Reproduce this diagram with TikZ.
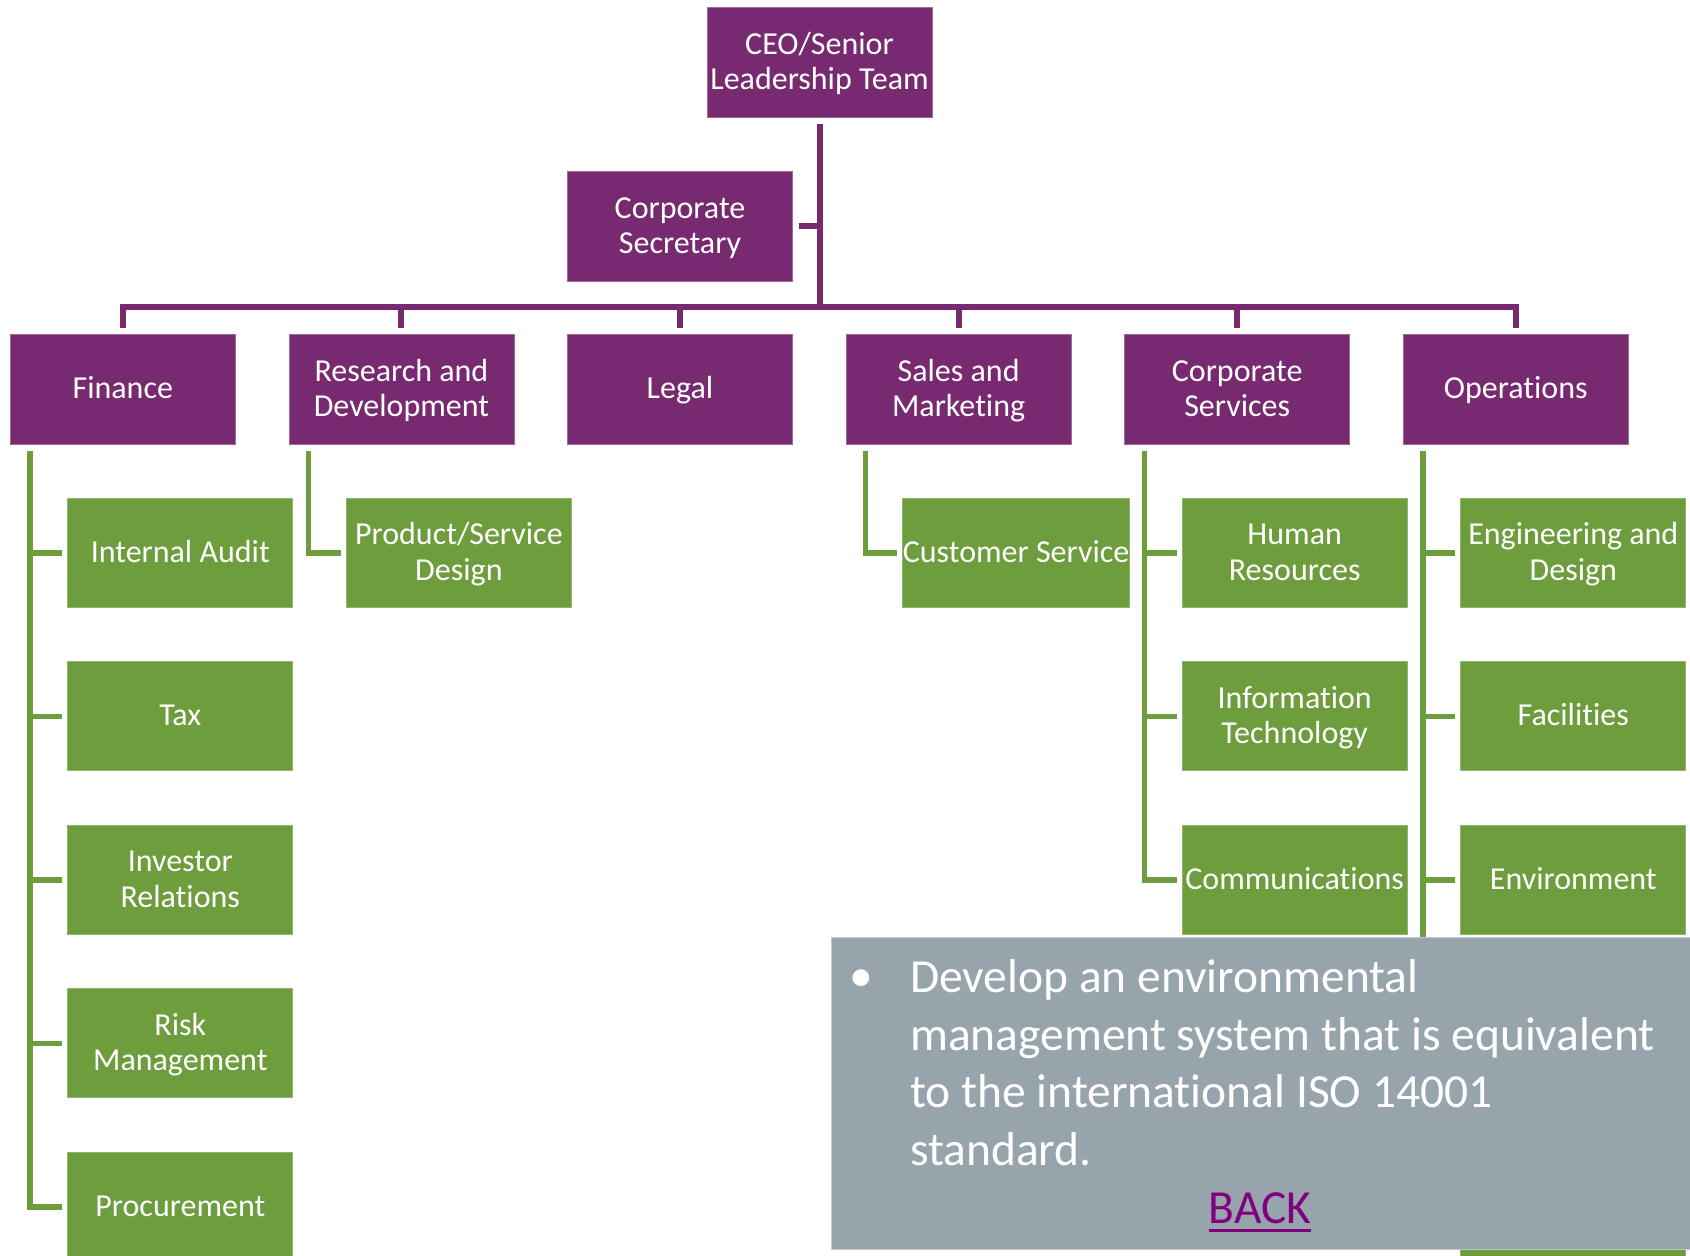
\documentclass[tikz,border=0pt]{standalone}
\usepackage{fontspec}
\setmainfont[RawFeature={-liga}]{Carlito}
\definecolor{orgpurple}{HTML}{772A70}
\definecolor{orggreen}{HTML}{6E9D3D}
\definecolor{notegray}{HTML}{98A4AC}
\definecolor{linkpurple}{HTML}{800080}
\newcommand\mystrut{\rule[-8pt]{0pt}{35.3pt}}
\begin{document}
\begin{tikzpicture}[x=1pt,y=-1pt,
  box/.style={minimum width=225pt, minimum height=110pt, inner sep=0pt, text=white, align=center, font=\fontsize{32}{35.3}\selectfont, line width=0.8pt},
  pbox/.style={box, fill=orgpurple, draw=orgpurple!70!white},
  gbox/.style={box, fill=orggreen, minimum height=109pt, draw=orggreen!75!white},
  pline/.style={draw=orgpurple, line width=6pt},
  gline/.style={draw=orggreen, line width=5.4pt},
  notetext/.style={text=white, font=\fontsize{47.5}{57.7}\selectfont, inner sep=0pt, anchor=base west}]
\useasboundingbox (0,0) rectangle (1690,1256);
\clip (0,0) rectangle (1690,1256);
% top
\node[pbox] (ceo) at (819.5,62.3) {\mystrut CEO/Senior\\\mystrut Leadership Team};
\node[pbox] (sec) at (680,226) {\mystrut Corporate\\\mystrut Secretary};
% level 2
\node[pbox] (fin) at (122.8,389.3) {\mystrut Finance};
\node[pbox] (rnd) at (401.4,389.3) {\mystrut Research and\\\mystrut Development};
\node[pbox] (legal) at (680,389.3) {\mystrut Legal};
\node[pbox] (sales) at (958.6,389.3) {\mystrut Sales and\\\mystrut Marketing};
\node[pbox] (cs) at (1237.2,389.3) {\mystrut Corporate\\\mystrut Services};
\node[pbox] (ops) at (1515.8,389.3) {\mystrut Operations};
% level 3
\node[gbox] (audit) at (180.3,552.8) {\mystrut Internal Audit};
\node[gbox] (tax) at (180.3,716.3) {\mystrut Tax};
\node[gbox] (ir) at (180.3,879.8) {\mystrut Investor\\\mystrut Relations};
\node[gbox] (risk) at (180.3,1043.3) {\mystrut Risk\\\mystrut Management};
\node[gbox] (proc) at (180.3,1206.8) {\mystrut Procurement};
\node[gbox] (psd) at (458.9,552.8) {\mystrut Product/Service\\\mystrut Design};
\node[gbox] (cust) at (1016.1,552.8) {\mystrut Customer Service};
\node[gbox] (hr) at (1294.7,552.8) {\mystrut Human\\\mystrut Resources};
\node[gbox] (it) at (1294.7,716.3) {\mystrut Information\\\mystrut Technology};
\node[gbox] (comm) at (1294.7,879.8) {\mystrut Communications};
\node[gbox] (eng) at (1573.3,552.8) {\mystrut Engineering and\\\mystrut Design};
\node[gbox] (fac) at (1573.3,716.3) {\mystrut Facilities};
\node[gbox] (env) at (1573.3,879.8) {\mystrut Environment};
\node[gbox] (opsx) at (1573.3,1206.8) {};
% purple connectors
\coordinate (bus) at (819.5,307);
\draw[pline] ([yshift=-6pt]ceo.south) -- (ceo.south |- bus);
\draw[pline] ([yshift=6pt]fin.north) -- (fin.north |- bus) -- (ops.north |- bus) -- ([yshift=6pt]ops.north);
\foreach \n in {rnd,legal,sales,cs} \draw[pline] (\n.north |- bus) -- ([yshift=6pt]\n.north);
\draw[pline] ([xshift=6pt]sec.east) -- (sec.east -| ceo.south);
% green connectors
\coordinate (finV) at ([xshift=20pt,yshift=-6pt]fin.south west);
\draw[gline] (finV) -- (finV |- proc.west) -- ([xshift=-5pt]proc.west);
\foreach \c in {audit,tax,ir,risk} \draw[gline] (finV |- \c.west) -- ([xshift=-5pt]\c.west);
\coordinate (rndV) at ([xshift=20pt,yshift=-6pt]rnd.south west);
\draw[gline] (rndV) -- (rndV |- psd.west) -- ([xshift=-5pt]psd.west);
\coordinate (salesV) at ([xshift=20pt,yshift=-6pt]sales.south west);
\draw[gline] (salesV) -- (salesV |- cust.west) -- ([xshift=-5pt]cust.west);
\coordinate (csV) at ([xshift=20pt,yshift=-6pt]cs.south west);
\draw[gline] (csV) -- (csV |- comm.west) -- ([xshift=-5pt]comm.west);
\foreach \c in {hr,it} \draw[gline] (csV |- \c.west) -- ([xshift=-5pt]\c.west);
\coordinate (opsV) at ([xshift=20pt,yshift=-6pt]ops.south west);
\draw[gline] (opsV) -- (opsV |- opsx.west) -- ([xshift=-5pt]opsx.west);
\foreach \c in {eng,fac,env} \draw[gline] (opsV |- \c.west) -- ([xshift=-5pt]\c.west);
% note box
\node[fill=notegray, draw=notegray!60!white, line width=0.8pt, minimum width=859pt, minimum height=312pt, inner sep=0pt, anchor=north west] (note) at (831,937) {};
\node[notetext] (bul) at (849,991.7) {•};
\node[notetext] (l1) at (910,992.5) {Develop an environmental};
\node[notetext] (l2) at (910,1050.2) {management system that is equivalent};
\node[notetext] (l3) at (910,1107.9) {to the international ISO 14001};
\node[notetext] (l4) at (910,1165.6) {standard.};
\node[notetext, anchor=base, text=linkpurple] (back) at (1260,1223) {BACK};
\draw[linkpurple, line width=3pt] ([yshift=-7.5pt]back.base west) -- ([yshift=-7.5pt]back.base east);
\end{tikzpicture}
\end{document}
